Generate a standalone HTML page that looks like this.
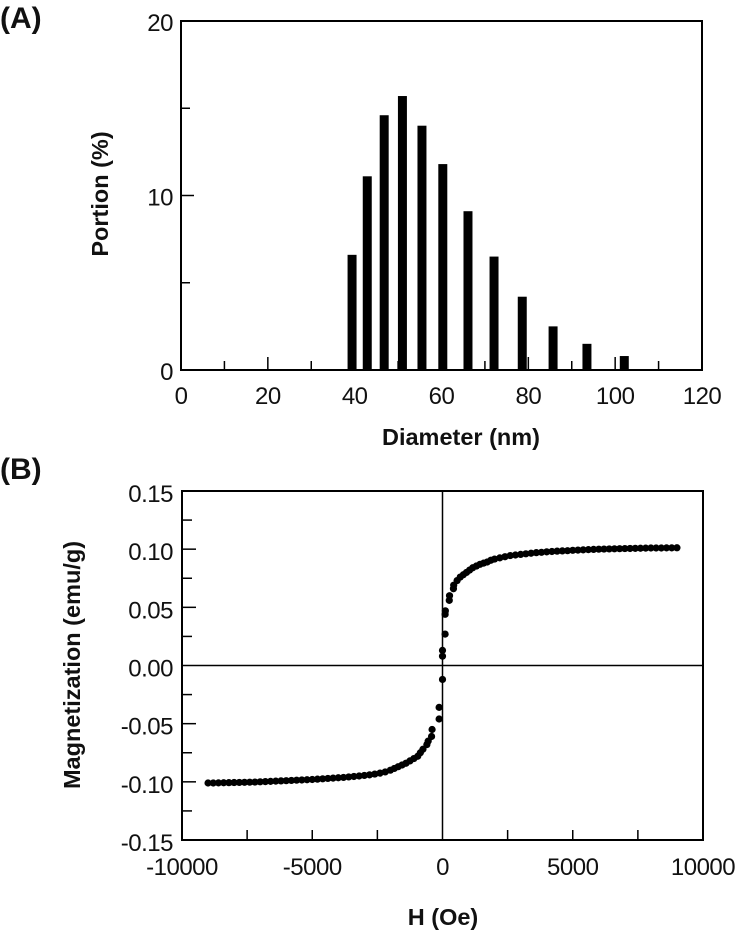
<!DOCTYPE html>
<html><head><meta charset="utf-8">
<style>
html,body{margin:0;padding:0;background:#fff;}
svg{display:block;font-family:"Liberation Sans",Arial,sans-serif;}
.t{font-size:24px;fill:#111;letter-spacing:-0.5px;}
.ti{font-size:23.5px;font-weight:bold;fill:#111;}
.pl{font-size:30px;font-weight:bold;fill:#111;}
</style></head>
<body>
<svg id="fig" width="739" height="932" viewBox="0 0 739 932">
<text class="pl" x="0" y="28">(A)</text>
<text class="pl" x="0" y="479">(B)</text>
<text class="ti" x="461" y="445" text-anchor="middle">Diameter (nm)</text>
<text class="ti" transform="translate(108,194) rotate(-90)" text-anchor="middle">Portion (%)</text>
<text class="ti" x="443" y="925" text-anchor="middle">H (Oe)</text>
<text class="ti" transform="translate(80,665) rotate(-90)" text-anchor="middle">Magnetization (emu/g)</text>
<g id="ga"></g>
<g id="gb"></g>
</svg>
<script>
// Panel A data
const diameters = [39.4, 42.9, 46.8, 51.0, 55.5, 60.3, 66.1, 72.1, 78.6, 85.7, 93.5, 102.1];
const portions = [6.6, 11.1, 14.6, 15.7, 14.0, 11.8, 9.1, 6.5, 4.2, 2.5, 1.5, 0.8];
const xTicksA = [0, 20, 40, 60, 80, 100, 120];
const yTicksA = [0, 10, 20];
// Panel B data
const fieldH = [-9000,-8800,-8600,-8400,-8200,-8000,-7800,-7600,-7400,-7200,-7000,-6800,-6600,-6400,-6200,-6000,-5800,-5600,-5400,-5200,-5000,-4800,-4600,-4400,-4200,-4000,-3800,-3600,-3400,-3200,-3000,-2800,-2600,-2400,-2200,-2000,
-1850,-1700,-1550,-1400,-1250,-1100,-950,-850,-750,-600,-550,-420,-400,-130,-130,0,
0,0,100,100,110,260,270,420,430,560,680,800,920,1040,1160,1300,1440,1580,1720,1860,
2000,2200,2400,2600,2800,3000,3200,3400,3600,3800,4000,4200,4400,4600,4800,5000,5200,5400,5600,5800,6000,6200,6400,6600,6800,7000,7200,7400,7600,7800,8000,8200,8400,8600,8800,9000];
const magM = [-0.1010,-0.1010,-0.1009,-0.1008,-0.1007,-0.1006,-0.1005,-0.1004,-0.1003,-0.1002,-0.1000,-0.0998,-0.0996,-0.0994,-0.0992,-0.0990,-0.0988,-0.0986,-0.0984,-0.0982,-0.0980,-0.0977,-0.0974,-0.0971,-0.0968,-0.0965,-0.0962,-0.0958,-0.0954,-0.0950,-0.0945,-0.0940,-0.0933,-0.0925,-0.0915,-0.0900,
-0.0885,-0.0870,-0.0855,-0.0840,-0.0820,-0.0800,-0.0780,-0.0750,-0.0720,-0.0680,-0.0650,-0.0610,-0.0550,-0.0460,-0.0360,-0.0120,
0.0080,0.0130,0.0270,0.0440,0.0470,0.0560,0.0600,0.0660,0.0690,0.0730,0.0760,0.0780,0.0800,0.0820,0.0840,0.0855,0.0870,0.0880,0.0890,0.0905,
0.0915,0.0925,0.0935,0.0945,0.0950,0.0955,0.0960,0.0965,0.0970,0.0973,0.0977,0.0980,0.0983,0.0985,0.0987,0.0990,0.0992,0.0994,0.0996,0.0998,0.1000,0.1001,0.1002,0.1003,0.1004,0.1005,0.1006,0.1007,0.1008,0.1009,0.1010,0.1010,0.1010,0.1011,0.1011,0.1012];
const xTicksB = [-10000, -5000, 0, 5000, 10000];
const yTicksB = [-0.15, -0.10, -0.05, 0.00, 0.05, 0.10, 0.15];
const yTickLabelsB = ["-0.15","-0.10","-0.05","0.00","0.05","0.10","0.15"];

const NS = "http://www.w3.org/2000/svg";
function mk(tag, attrs, parent){const e=document.createElementNS(NS,tag);for(const k in attrs)e.setAttribute(k,attrs[k]);parent.appendChild(e);return e;}

// ----- Panel A -----
const A = {l:181, r:702, t:21, b:370, x0:0, x1:120, y0:0, y1:20};
const xA = v => A.l + (v-A.x0)/(A.x1-A.x0)*(A.r-A.l);
const yA = v => A.b - (v-A.y0)/(A.y1-A.y0)*(A.b-A.t);
const ga = document.getElementById('ga');
diameters.forEach((d,i)=>{
  const w = xA(2.07)-xA(0);
  const r = mk('rect',{x:xA(d)-w/2,y:yA(portions[i]),width:w,height:yA(0)-yA(portions[i]),fill:'#000'},ga);
  
  
});
for(let v=10; v<120; v+=10){
  const len = (v%20===0)?13:9;
  const tk = mk('line',{x1:xA(v),x2:xA(v),y1:A.b,y2:A.b-len,stroke:'#000','stroke-width':1.5},ga);
  
  
}
for(let v=5; v<20; v+=5){
  const len = (v%10===0)?13:9;
  const tk = mk('line',{x1:A.l,x2:A.l+len,y1:yA(v),y2:yA(v),stroke:'#000','stroke-width':1.5},ga);
  
  
}
const boxA = mk('rect',{x:A.l,y:A.t,width:A.r-A.l,height:A.b-A.t,fill:'none',stroke:'#000','stroke-width':2},ga);


xTicksA.forEach(v=>{
  const t = mk('text',{x:xA(v),y:404,'text-anchor':'middle',class:'t'},ga);
  t.textContent = v;
  
  
});
yTicksA.forEach(v=>{
  const t = mk('text',{x:173,y:yA(v)+10,'text-anchor':'end',class:'t'},ga);
  t.textContent = v;
  
  
});

// ----- Panel B -----
const B = {l:182, r:703, t:491, b:840, x0:-10000, x1:10000, y0:-0.15, y1:0.15};
const xB = v => B.l + (v-B.x0)/(B.x1-B.x0)*(B.r-B.l);
const yB = v => B.b - (v-B.y0)/(B.y1-B.y0)*(B.b-B.t);
const gb = document.getElementById('gb');
for(let v=-7500; v<10000; v+=2500){
  if(v===0) continue;
  const tk = mk('line',{x1:xB(v),x2:xB(v),y1:B.b,y2:B.b-10,stroke:'#000','stroke-width':1.5},gb);
  
  
}
for(let i=1;i<12;i++){
  const v = -0.15 + i*0.025;
  if(Math.abs(v)<1e-9) continue;
  const len = (i%2===0)?14:10;
  const tk = mk('line',{x1:B.l,x2:B.l+len,y1:yB(v),y2:yB(v),stroke:'#000','stroke-width':1.5},gb);
  
  
}
const hz = mk('line',{x1:B.l,x2:B.r,y1:yB(0),y2:yB(0),stroke:'#000','stroke-width':1.5},gb);


const vz = mk('line',{x1:xB(0),x2:xB(0),y1:B.t,y2:B.b,stroke:'#000','stroke-width':1.5},gb);


const boxB = mk('rect',{x:B.l,y:B.t,width:B.r-B.l,height:B.b-B.t,fill:'none',stroke:'#000','stroke-width':2},gb);


fieldH.forEach((h,i)=>{
  const c = mk('circle',{cx:xB(h),cy:yB(magM[i]),r:3.6,fill:'#000'},gb);
  
  
});
xTicksB.forEach(v=>{
  const t = mk('text',{x:xB(v),y:875,'text-anchor':'middle',class:'t'},gb);
  t.textContent = v;
  
  
});
yTicksB.forEach((v,i)=>{
  const t = mk('text',{x:173,y:yB(v)+11,'text-anchor':'end',class:'t'},gb);
  t.textContent = yTickLabelsB[i];
  
  
});
</script>
</body></html>
